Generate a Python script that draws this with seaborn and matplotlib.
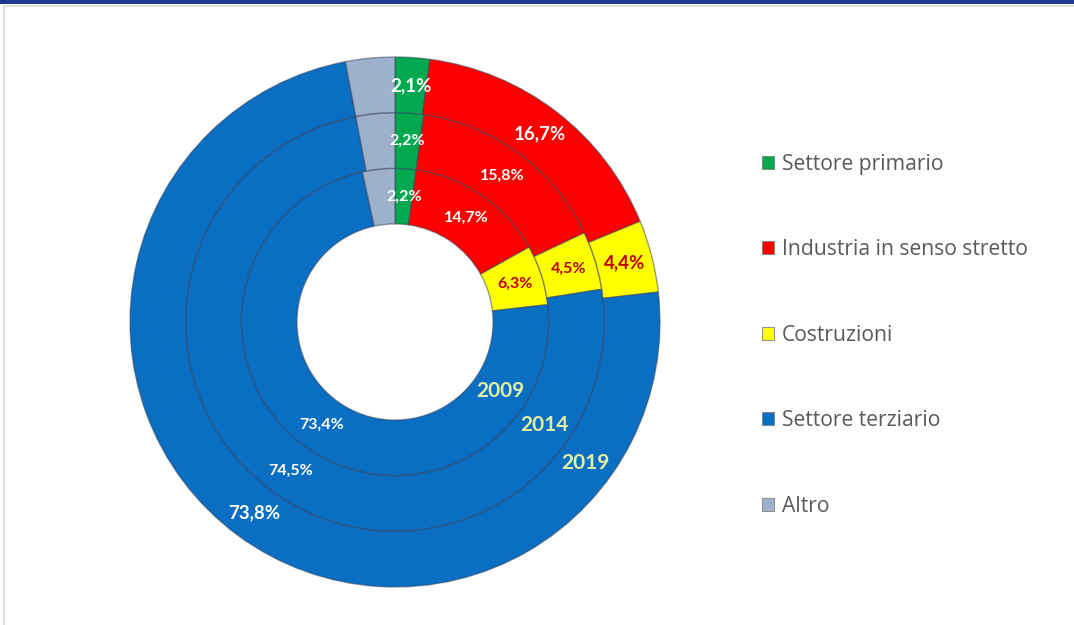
import numpy as np
import matplotlib
matplotlib.use("Agg")
import matplotlib.pyplot as plt
from matplotlib.patches import Rectangle
import seaborn as sns

# Occupati per settore di attività (quota %), anni 2009 / 2014 / 2019
categories = ["Settore primario", "Industria in senso stretto", "Costruzioni",
              "Settore terziario", "Altro"]
years = ["2009", "2014", "2019"]
share_2009 = [2.2, 14.7, 6.3, 73.4, 3.4]
share_2014 = [2.2, 15.8, 4.5, 74.5, 3.0]
share_2019 = [2.1, 16.7, 4.4, 73.8, 3.0]
labelled = [True, True, True, True, False]

sns.set_theme(style="white")
plt.rcParams["font.family"] = ["Lato", "DejaVu Sans"]

palette = ["#00A94F", "#FF0000", "#FFFF00", "#0A6EC2", "#9DB0CC"]
label_colors = ["white", "white", "#C00000", "white", "white"]

W, H = 1074, 625
fig = plt.figure(figsize=(W / 100, H / 100), dpi=100)
fig.patch.set_facecolor("white")

# header band and panel frame
fig.add_artist(Rectangle((0, 1 - 4 / H), 1, 4 / H, transform=fig.transFigure,
                         facecolor="#1F3A93", edgecolor="none"))
fig.add_artist(Rectangle((4 / W, -0.01), 1.0, 1 - 6 / H + 0.01, transform=fig.transFigure,
                         facecolor="none", edgecolor="#D9D9D9", lw=1.2))

cx, cy, R = 395, 322, 265
ax = fig.add_axes([(cx - R) / W, (H - cy - R) / H, 2 * R / W, 2 * R / H])

ring_width = 0.21
outer_radii = [0.58, 0.79, 1.0]       # 2009 inner, 2014 middle, 2019 outer
series = [share_2009, share_2014, share_2019]
label_sizes = [11.5, 11.5, 13.5]

for vals, r, fs in zip(series, outer_radii, label_sizes):
    ax.pie(vals, radius=r, colors=palette, startangle=90, counterclock=False,
           wedgeprops=dict(width=ring_width, edgecolor=(0.2, 0.25, 0.35, 0.5),
                           linewidth=1.0))
    mid = r - ring_width / 2
    cum = np.cumsum([0] + vals[:-1])
    for v, c, show, col in zip(vals, cum, labelled, label_colors):
        if not show:
            continue
        ang = np.deg2rad(90 - (c + v / 2) / 100 * 360)
        txt = f"{v:.1f}%".replace(".", ",")
        ax.text(mid * np.cos(ang), mid * np.sin(ang), txt, ha="center", va="center",
                color=col, fontsize=fs, fontweight="bold")

# year labels on each ring
year_angles = [-33.5, -34.5, -36.5]
for yr, r, a in zip(years, outer_radii, year_angles):
    mid = r - ring_width / 2
    ang = np.deg2rad(a)
    ax.text(mid * np.cos(ang), mid * np.sin(ang), yr,
            ha="center", va="center", color="#E2F0A2", fontsize=15, fontweight="bold")

ax.set_xlim(-1, 1)
ax.set_ylim(-1, 1)
ax.set_aspect("auto")
ax.axis("off")

handles = [Rectangle((0, 0), 1, 1, facecolor=c, edgecolor="#7F7F7F", lw=0.6) for c in palette]
fig.legend(handles, categories, loc="upper left", bbox_to_anchor=(762 / W, 1 - 154 / H),
           frameon=False, prop=dict(family=["Open Sans", "DejaVu Sans"], size=15.2),
           labelcolor="#595959", handlelength=0.57, handleheight=0.57, handletextpad=0.38,
           labelspacing=3.05, borderaxespad=0, borderpad=0)

fig.savefig("out.png", dpi=100, facecolor="white")
